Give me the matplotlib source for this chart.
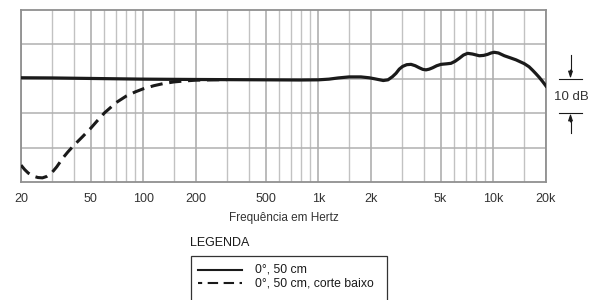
import matplotlib
matplotlib.use('Agg')
import matplotlib.pyplot as plt
from matplotlib.lines import Line2D
from matplotlib.patches import Rectangle
import matplotlib.ticker as mticker

plt.rcParams.update({
    'font.family': ['Liberation Sans', 'DejaVu Sans'],
    'font.size': 9,
})

# ---- data ----
freq_flat = [20, 30, 50, 100, 200, 500, 780, 1000, 1150, 1300, 1500, 1750, 1950, 2100,
             2350, 2500, 2650, 2780, 2900, 3032, 3200, 3385, 3580, 3776, 3950, 4122,
             4300, 4498, 4750, 5024, 5400, 5730, 6050, 6392, 6750, 7130, 7600, 8316,
             8800, 9278, 9700, 10130, 10700, 11560, 12500, 13490, 15030, 16000, 16760,
             17500, 18310, 19200, 20000]
db_flat = [0.3, 0.25, 0.1, -0.1, -0.2, -0.3, -0.35, -0.3, -0.1, 0.25, 0.55, 0.55, 0.3, 0.0,
           -0.5, -0.3, 0.6, 1.6, 2.8, 3.6, 4.1, 4.2, 3.8, 3.2, 2.75, 2.6,
           2.8, 3.2, 3.8, 4.2, 4.35, 4.5, 5.1, 5.96, 6.9, 7.4, 7.2, 6.7,
           6.8, 7.1, 7.5, 7.7, 7.5, 6.7, 6.1, 5.5, 4.4, 3.5, 2.5,
           1.5, 0.4, -0.9, -2.1]

freq_lowcut = [20, 21, 22, 23.5, 25, 26.5, 28, 30, 32, 34.6, 37, 40, 45, 50, 55, 60, 70,
               80, 90, 100, 115, 130, 150, 175, 200, 250, 300]
db_lowcut = [-25.1, -26.4, -27.4, -28.3, -28.7, -28.8, -28.4, -27.3, -25.6, -23.1, -21.3,
             -19.4, -16.8, -14.4, -12.0, -9.9, -6.9, -5.0, -3.8, -2.9, -2.0, -1.4,
             -0.9, -0.6, -0.4, -0.3, -0.25]

tick_freqs = [20, 50, 100, 200, 500, 1000, 2000, 5000, 10000, 20000]
tick_labels = ['20', '50', '100', '200', '500', '1k', '2k', '5k', '10k', '20k']
minor_freqs = [30, 40, 60, 70, 80, 90, 150, 300, 400, 600, 700, 800, 900,
               1500, 3000, 4000, 6000, 7000, 8000, 9000, 15000]
db_grid = [-20, -10, 0, 10]

series_labels = ['0°, 50 cm', '0°, 50 cm, corte baixo']

INK = '#1a1a1a'
TXT = '#333333'


def px(x, y):
    # figure pixel position -> figure fraction
    return (x / 598, 1 - y / 300)


# ---- figure ----
fig = plt.figure(figsize=(5.98, 3.0), dpi=100)
ax = fig.add_axes([21 / 598, 1 - 182 / 300, 525 / 598, 172 / 300])
ax.set_xscale('log')
ax.set_xlim(20, 20000)
ax.set_ylim(-30, 20)

# grid
for f in minor_freqs:
    ax.axvline(f, color='#c2c2c2', lw=1.0, zorder=1)
for f in tick_freqs:
    ax.axvline(f, color='#a8a8a8', lw=1.1, zorder=1)
for d in db_grid:
    ax.axhline(d, color='#b0b0b0', lw=1.1, zorder=1)

for s in ax.spines.values():
    s.set_color('#909090')
    s.set_linewidth(1.3)

ax.set_xticks(tick_freqs)
ax.set_xticklabels(tick_labels)
ax.xaxis.set_minor_locator(mticker.NullLocator())
ax.set_yticks([])
ax.tick_params(axis='x', length=0, pad=8, labelsize=9, colors=TXT)
ax.set_xlabel('Frequência em Hertz', fontsize=8.5, labelpad=5, color=TXT)

# curves
ax.plot(freq_lowcut, db_lowcut, color=INK, lw=2.2, ls=(0, (4.0, 2.2)),
        zorder=3, solid_capstyle='butt', dash_capstyle='butt')
ax.plot(freq_flat, db_flat, color=INK, lw=2.3, zorder=4, solid_joinstyle='round')

# 10 dB scale marker
for yy in (79, 113):
    fig.add_artist(Line2D([px(559, yy)[0], px(582, yy)[0]], [px(559, yy)[1]] * 2,
                          color=INK, lw=0.8))
for y0, y1 in ((55, 72), (120, 133)):
    fig.add_artist(Line2D([px(570.5, y0)[0]] * 2, [px(570.5, y0)[1], px(570.5, y1)[1]],
                          color=INK, lw=0.8))
for tail, tip in ((70, 78.5), (122, 113.5)):
    ax.annotate('', xy=px(570.5, tip), xytext=px(570.5, tail), xycoords='figure fraction',
                textcoords='figure fraction',
                arrowprops=dict(arrowstyle='-|>,head_width=0.15,head_length=0.45',
                                color=INK, lw=0.8, shrinkA=0, shrinkB=0))
fig.text(*px(571, 96.5), '10 dB', ha='center', va='center', fontsize=9.5, color=TXT)

# legend (drawn by hand: title sits outside the open-bottom box)
fig.text(*px(190, 243), 'LEGENDA', ha='left', va='center', fontsize=9, color=INK)
fig.add_artist(Rectangle(px(190.5, 305), 196.5 / 598, 49 / 300, transform=fig.transFigure,
                         facecolor='none', edgecolor='#333333', lw=0.9))
styles = [dict(ls='-'), dict(ls=(3.0, (5.0, 2.65)))]
for i, (lab, st) in enumerate(zip(series_labels, styles)):
    yy = 270 + 13 * i
    fig.add_artist(Line2D([px(198, yy)[0], px(242, yy)[0]], [px(198, yy)[1]] * 2,
                          color=INK, lw=1.5, dash_capstyle='butt', **st))
    fig.text(*px(255, yy), lab, ha='left', va='center', fontsize=8.8, color=INK)

fig.savefig('out.png', dpi=100)
